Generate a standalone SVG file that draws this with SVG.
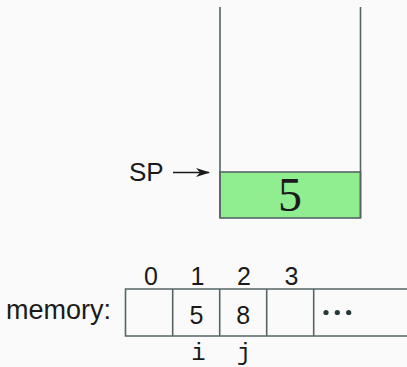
<svg xmlns="http://www.w3.org/2000/svg" width="407" height="367" viewBox="0 0 407 367">
<defs>
<style>
.ln{stroke:#566464;stroke-width:1.6;fill:none}
.green{fill:#90ee90;stroke:#566464;stroke-width:1.6}
.sans{font-family:"Liberation Sans","DejaVu Sans",sans-serif;fill:#1a1a1a}
.mono{font-family:"Liberation Mono","DejaVu Sans Mono",monospace;fill:#1a1a1a}
.serif{font-family:"Liberation Serif","DejaVu Serif",serif;fill:#1a1a1a}
</style>
<marker id="stealth" viewBox="0 0 14 10" refX="13" refY="5" markerWidth="14" markerHeight="10" markerUnits="userSpaceOnUse" orient="auto">
<path d="M0,0.5 L14,5 L0,9.5 L4,5 Z" fill="#1a1a1a"/>
</marker>
</defs>
<rect width="407" height="367" fill="#fafafa"/>
<g id="stack">
<rect x="220" y="172" width="140.5" height="46" class="green"/>
<line x1="220" y1="7" x2="220" y2="218" class="ln"/>
<line x1="360.5" y1="7" x2="360.5" y2="218" class="ln"/>
<text x="290" y="210.5" class="serif" font-size="48" text-anchor="middle">5</text>
</g>
<g id="sp">
<text x="129" y="181" class="sans" font-size="26">SP</text>
</g>
<g id="connectors">
<line x1="173" y1="172.5" x2="209" y2="172.5" stroke="#1a1a1a" stroke-width="1.4" marker-end="url(#stealth)"/>
</g>
<g id="memory">
<text x="6" y="319" class="sans" font-size="27">memory:</text>
<path d="M407,289 H125.5 V336 H407 M172.7,289 V336 M219.7,289 V336 M266.7,289 V336 M313.7,289 V336" class="ln"/>
<g class="sans" font-size="25" text-anchor="middle">
<text x="151" y="285">0</text>
<text x="197.5" y="285">1</text>
<text x="244" y="285">2</text>
<text x="291.5" y="285">3</text>
<text x="196.5" y="324">5</text>
<text x="243.3" y="324">8</text>
</g>
<g fill="#26393a">
<circle cx="326" cy="312.5" r="2.6"/>
<circle cx="337.3" cy="312.5" r="2.6"/>
<circle cx="348.7" cy="312.5" r="2.6"/>
</g>
<g class="mono" font-size="24" text-anchor="middle">
<text x="198.5" y="360">i</text>
<text x="244" y="360">j</text>
</g>
</g>
</svg>
